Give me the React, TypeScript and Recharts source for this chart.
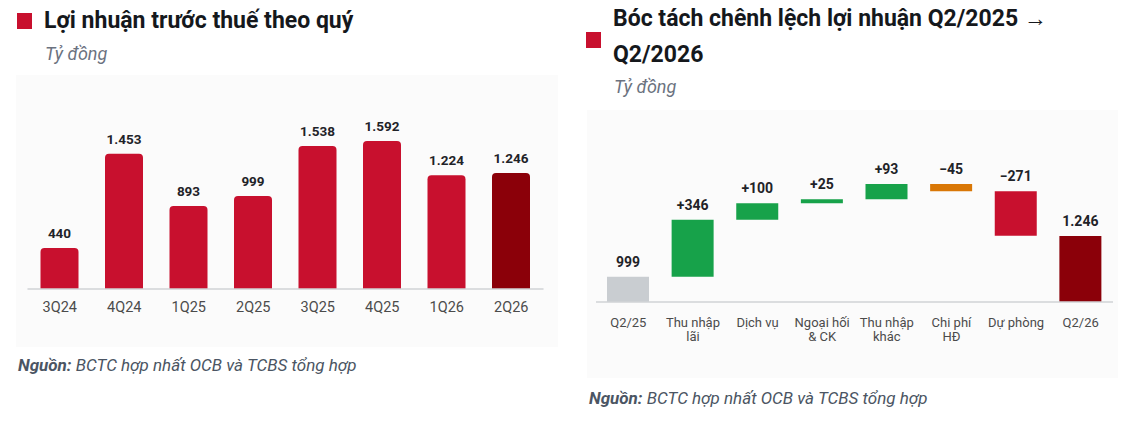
import { Bar, BarChart, Cell, LabelList, XAxis, YAxis } from "recharts";

// Lợi nhuận trước thuế theo quý (tỷ đồng)
const quarters = ["3Q24", "4Q24", "1Q25", "2Q25", "3Q25", "4Q25", "1Q26", "2Q26"];
const profit = [440, 1453, 893, 999, 1538, 1592, 1224, 1246];

// Bóc tách chênh lệch Q2/2025 -> Q2/2026
const steps = [
  "Q2/25",
  "Thu nhập\nlãi",
  "Dịch vụ",
  "Ngoại hối\n& CK",
  "Thu nhập\nkhác",
  "Chi phí\nHĐ",
  "Dự phòng",
  "Q2/26",
];
const startValue = 999;
const deltas = [346, 100, 25, 93, -45, -271];
const endValue = 1246;

const RED = "#c8102e";
const DARK_RED = "#8b0009";
const GREEN = "#17a24a";
const ORANGE = "#d97706";
const GREY = "#c9cdd1";
const FONT = "Roboto, 'Noto Sans', sans-serif";

const fmt = (v: number) => String(Math.abs(v)).replace(/\B(?=(\d{3})+(?!\d))/g, ".");

const quarterData = quarters.map((q, i) => ({ q, value: profit[i] }));

const waterfall = (() => {
  const rows = [{ name: steps[0], range: [0, startValue], label: fmt(startValue), color: GREY }];
  let acc = startValue;
  deltas.forEach((d, i) => {
    const next = acc + d;
    rows.push({
      name: steps[i + 1],
      range: [Math.min(acc, next), Math.max(acc, next)],
      label: (d >= 0 ? "+" : "−") + fmt(d),
      color: d >= 0 ? GREEN : i === deltas.length - 1 ? RED : ORANGE,
    });
    acc = next;
  });
  rows.push({ name: steps[steps.length - 1], range: [0, endValue], label: fmt(endValue), color: DARK_RED });
  return rows;
})();

function Tick({ x, y, payload, size = 13, first = 12, gap = 14 }: any) {
  const lines = String(payload.value).split("\n");
  return (
    <text x={x} y={y} textAnchor="middle" fontFamily={FONT} fontSize={size} fill="#4b4b4b">
      {lines.map((l, i) => (
        <tspan key={i} x={x} dy={i === 0 ? first : gap}>
          {l}
        </tspan>
      ))}
    </text>
  );
}

function TopLabel({ x, y, width, text, size }: any) {
  return (
    <text
      x={x + width / 2}
      y={y - 10}
      textAnchor="middle"
      fontFamily={FONT}
      fontSize={size}
      fontWeight={700}
      fill="#1f2328"
    >
      {text}
    </text>
  );
}

function Heading({ x, y, lines, markerTop }: { x: number; y: number; lines: string[]; markerTop: number }) {
  return (
    <>
      <div style={{ position: "absolute", left: x - 27, top: markerTop, width: 15, height: 16, background: RED }} />
      <div
        style={{
          position: "absolute",
          left: x,
          top: y,
          fontFamily: FONT,
          fontWeight: 700,
          fontSize: 23,
          lineHeight: "36px",
          color: "#15181c",
          whiteSpace: "nowrap",
        }}
      >
        {lines.map((l) => (
          <div key={l}>{l}</div>
        ))}
      </div>
    </>
  );
}

const note = (left: number, top: number) => (
  <div
    style={{
      position: "absolute",
      left,
      top,
      fontFamily: FONT,
      fontStyle: "italic",
      fontSize: 17,
      color: "#4b5563",
      whiteSpace: "nowrap",
    }}
  >
    <b>Nguồn:</b> BCTC hợp nhất OCB và TCBS tổng hợp
  </div>
);

const unit = (left: number, top: number) => (
  <div
    style={{
      position: "absolute",
      left,
      top,
      fontFamily: FONT,
      fontStyle: "italic",
      fontSize: 18,
      color: "#6b7280",
    }}
  >
    Tỷ đồng
  </div>
);

export default function App() {
  return (
    <div style={{ position: "absolute", left: 0, top: 0, width: 1123, height: 423, background: "#fff", overflow: "hidden" }}>
      <div style={{ position: "absolute", left: 16, top: 75, width: 542, height: 272, background: "#fbfbfb" }} />
      <div style={{ position: "absolute", left: 587, top: 110, width: 531, height: 268, background: "#fbfbfb" }} />

      <Heading x={44} y={3} lines={["Lợi nhuận trước thuế theo quý"]} markerTop={13} />
      {unit(45, 43)}

      <div style={{ position: "absolute", left: 0, top: 0 }}>
        <BarChart width={560} height={330} data={quarterData} margin={{ top: 103, right: 16.5, left: 27.5, bottom: 11 }}>
          <XAxis
            dataKey="q"
            height={30}
            tickLine={false}
            tickSize={0}
            axisLine={{ stroke: "#d0d3d6", strokeWidth: 1.5 }}
            tick={<Tick size={14.5} first={21} />}
            interval={0}
          />
          <YAxis hide domain={[0, 2000]} />
          <Bar dataKey="value" barSize={38} radius={[4, 4, 0, 0]} isAnimationActive={false}>
            {quarterData.map((d, i) => (
              <Cell key={d.q} fill={i === quarterData.length - 1 ? DARK_RED : RED} />
            ))}
            <LabelList
              dataKey="value"
              content={(p: any) => <TopLabel {...p} text={fmt(Number(p.value))} size={13.5} />}
            />
          </Bar>
        </BarChart>
      </div>
      {note(18, 355)}

      <Heading x={613} y={1} lines={["Bóc tách chênh lệch lợi nhuận Q2/2025 →", "Q2/2026"]} markerTop={32} />
      {unit(614, 76)}

      <div style={{ position: "absolute", left: 570, top: 0 }}>
        <BarChart width={553} height={360} data={waterfall} margin={{ top: 112, right: 10, left: 26, bottom: 18 }}>
          <XAxis
            dataKey="name"
            height={40}
            tickLine={false}
            tickSize={0}
            axisLine={{ stroke: "#d0d3d6", strokeWidth: 1.5 }}
            tick={<Tick size={13} first={23} gap={14} />}
            interval={0}
          />
          <YAxis hide domain={[845, 2000]} allowDataOverflow />
          <Bar dataKey="range" barSize={42} isAnimationActive={false}>
            {waterfall.map((d) => (
              <Cell key={d.name} fill={d.color} />
            ))}
            <LabelList
              dataKey="label"
              content={(p: any) => <TopLabel {...p} text={waterfall[p.index].label} size={14} />}
            />
          </Bar>
        </BarChart>
      </div>
      {note(589, 388)}
    </div>
  );
}
